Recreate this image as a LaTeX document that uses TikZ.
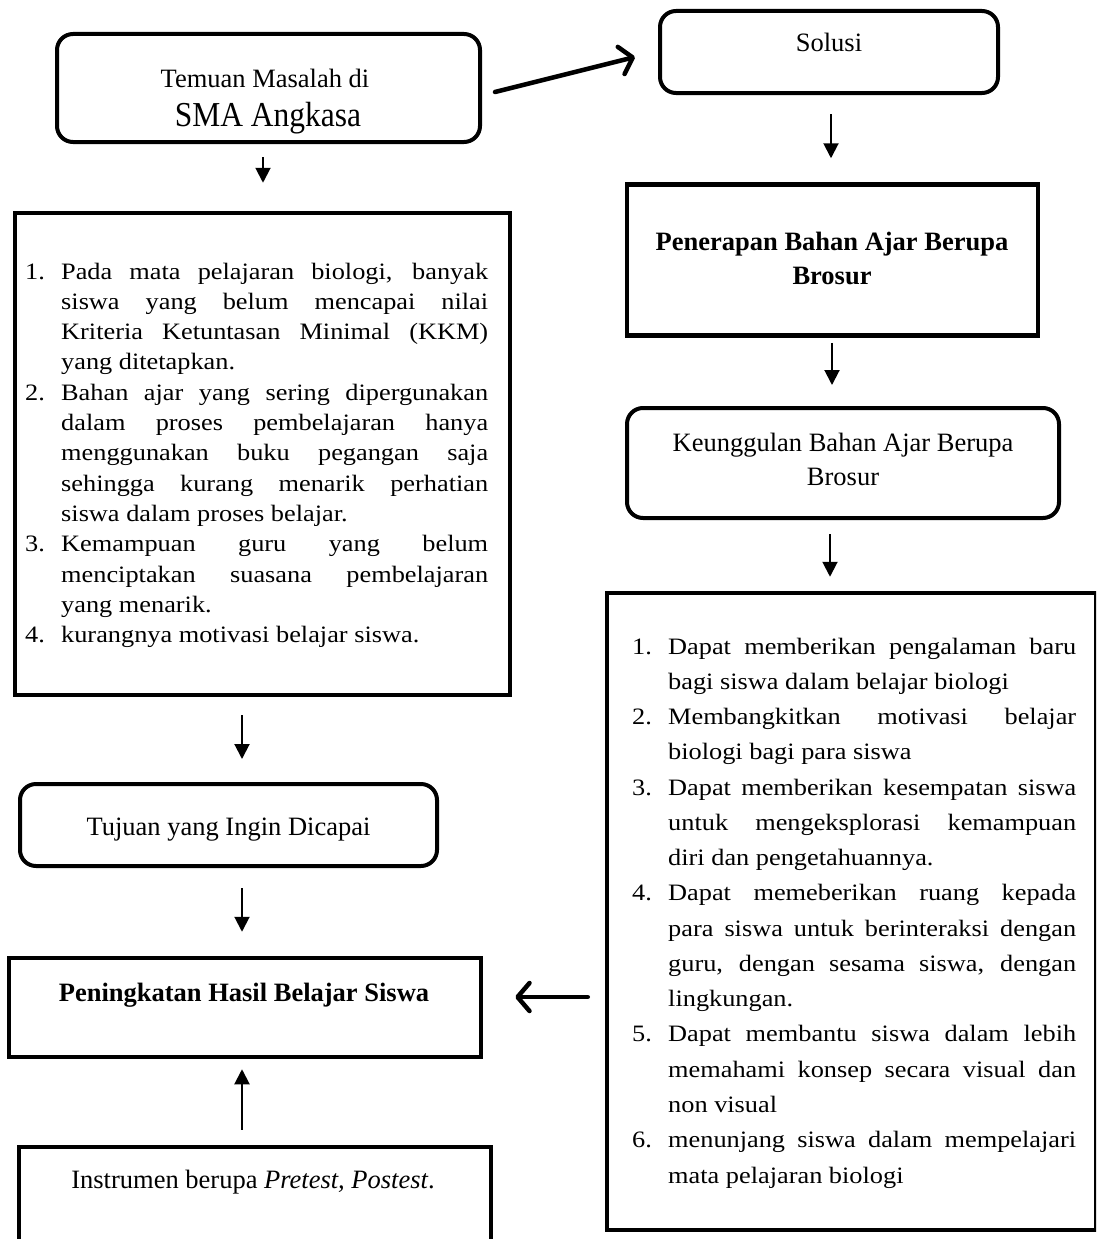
\documentclass[tikz,border=0pt]{standalone}
\usepackage{fontspec}
\setmainfont{Liberation Serif}
\newfontfamily\listfont[FakeStretch=1.12]{Liberation Serif}
\newfontfamily\smafont[FakeStretch=0.9]{Liberation Serif}
\usetikzlibrary{arrows.meta}
\newcommand{\lstitem}[2]{\noindent\hangindent=36pt\hangafter=1\makebox[36pt][l]{#1}#2\par}
\newcommand{\listsetup}{\hyphenpenalty=10000 \exhyphenpenalty=10000 \tolerance=10000 \emergencystretch=40pt\relax}
\begin{document}
\begin{tikzpicture}[x=1pt,y=-1pt,
  font=\fontsize{26.5}{32}\selectfont,
  rbox/.style={draw, line width=4pt, rounded corners=16pt, inner sep=0pt},
  sbox/.style={draw, line width=4.5pt, inner sep=0pt},
  lbl/.style={anchor=base, inner sep=0pt},
  listtext/.style={anchor=base west, inner sep=0pt, align=justify},
  thinarr/.style={line width=2pt, -{Triangle[length=15pt,width=15pt]}},
  bigarr/.style={line width=4.5pt, line cap=round,
     -{Straight Barb[length=12pt,width=28pt,line cap=round,line join=round]}}
]
\useasboundingbox (0,0) rectangle (1096,1239);
\clip (0,0) rectangle (1096,1239);

% boxes
\node[rbox, minimum width=423, minimum height=108] (temuan) at (268.5,88) {};
\node[rbox, minimum width=338, minimum height=82] (solusi) at (829,52) {};
\node[sbox, minimum width=411, minimum height=151] (penerapan) at (832.5,260) {};
\node[rbox, minimum width=432, minimum height=110] (keunggulan) at (843,463) {};
\node[sbox, minimum width=495, minimum height=482] (masalah) at (262.5,454) {};
\node[sbox, minimum width=489, minimum height=637] (kelebihan) at (851.5,911.5) {};
\node[rbox, minimum width=417, minimum height=82] (tujuan) at (228.5,825) {};
\node[sbox, minimum width=472, minimum height=99] (peningkatan) at (245,1007.5) {};
\node[sbox, minimum width=472, minimum height=123] (instrumen) at (255,1208.5) {};

% texts
\node[lbl] (t1a) at (265,88) {Temuan Masalah di};
\node[lbl, font=\fontsize{35}{40}\smafont] (t1b) at (268,126) {SMA Angkasa};
\node[lbl] (t2) at (829,52) {Solusi};
\node[lbl, font=\fontsize{26.5}{32}\selectfont\bfseries] (t3a) at (832,250) {Penerapan Bahan Ajar Berupa};
\node[lbl, font=\fontsize{26.5}{32}\selectfont\bfseries] (t3b) at (832,284) {Brosur};
\node[lbl] (t4a) at (843,451) {Keunggulan Bahan Ajar Berupa};
\node[lbl] (t4b) at (843,485) {Brosur};
\node[lbl] (t5) at (228.5,835) {Tujuan yang Ingin Dicapai};
\node[lbl, font=\fontsize{26.5}{32}\selectfont\bfseries] (t6) at (244,1001) {Peningkatan Hasil Belajar Siswa};
\node[lbl] (t7) at (253,1188) {Instrumen berupa \textit{Pretest, Postest}.};

\node[listtext, text width=463pt, font=\fontsize{23.5}{30.3}\listfont]
  (listL) at (25,279) {\listsetup%
\lstitem{1.}{Pada mata pelajaran biologi, banyak\linebreak siswa yang belum mencapai nilai\linebreak Kriteria Ketuntasan Minimal (KKM)\linebreak yang ditetapkan.}%
\lstitem{2.}{Bahan ajar yang sering dipergunakan\linebreak dalam proses pembelajaran hanya\linebreak menggunakan buku pegangan saja\linebreak sehingga kurang menarik perhatian\linebreak siswa dalam proses belajar.}%
\lstitem{3.}{Kemampuan guru yang belum\linebreak menciptakan suasana pembelajaran\linebreak yang menarik.}%
\lstitem{4.}{kurangnya motivasi belajar siswa.}};

\node[listtext, text width=444pt, font=\fontsize{23.5}{35.27}\listfont]
  (listR) at (632,654) {\listsetup%
\lstitem{1.}{Dapat memberikan pengalaman baru\linebreak bagi siswa dalam belajar biologi}%
\lstitem{2.}{Membangkitkan motivasi belajar\linebreak biologi bagi para siswa}%
\lstitem{3.}{Dapat memberikan kesempatan siswa\linebreak untuk mengeksplorasi kemampuan\linebreak diri dan pengetahuannya.}%
\lstitem{4.}{Dapat memeberikan ruang kepada\linebreak para siswa untuk berinteraksi dengan\linebreak guru, dengan sesama siswa, dengan\linebreak lingkungan.}%
\lstitem{5.}{Dapat membantu siswa dalam lebih\linebreak memahami konsep secara visual dan\linebreak non visual}%
\lstitem{6.}{menunjang siswa dalam mempelajari\linebreak mata pelajaran biologi}};

% connectors
\draw[bigarr] ([shift={(13,4)}]temuan.east) -- ([shift={(-23,5)}]solusi.west);
\draw[thinarr] ([shift={(-5.5,13)}]temuan.south) -- ([shift={(0.5,-28)}]masalah.north);
\draw[thinarr] ([shift={(2,19)}]solusi.south) -- ([shift={(-1.5,-24)}]penerapan.north);
\draw[thinarr] ([shift={(-0.5,5)}]penerapan.south) -- ([shift={(-11,-21)}]keunggulan.north);
\draw[thinarr] ([shift={(-13,14)}]keunggulan.south) -- ([shift={(-21.5,-14)}]kelebihan.north);
\draw[thinarr] ([shift={(-20.5,18)}]masalah.south) -- ([shift={(13.5,-23)}]tujuan.north);
\draw[thinarr] ([shift={(13.5,20)}]tujuan.south) -- ([shift={(-3,-24)}]peningkatan.north);
\draw[thinarr] ([shift={(-13,-15)}]instrumen.north) -- ([shift={(-3,10)}]peningkatan.south);
\draw[bigarr] ([shift={(-17,85.5)}]kelebihan.west) -- ([shift={(32,-10.5)}]peningkatan.east);
\end{tikzpicture}
\end{document}
